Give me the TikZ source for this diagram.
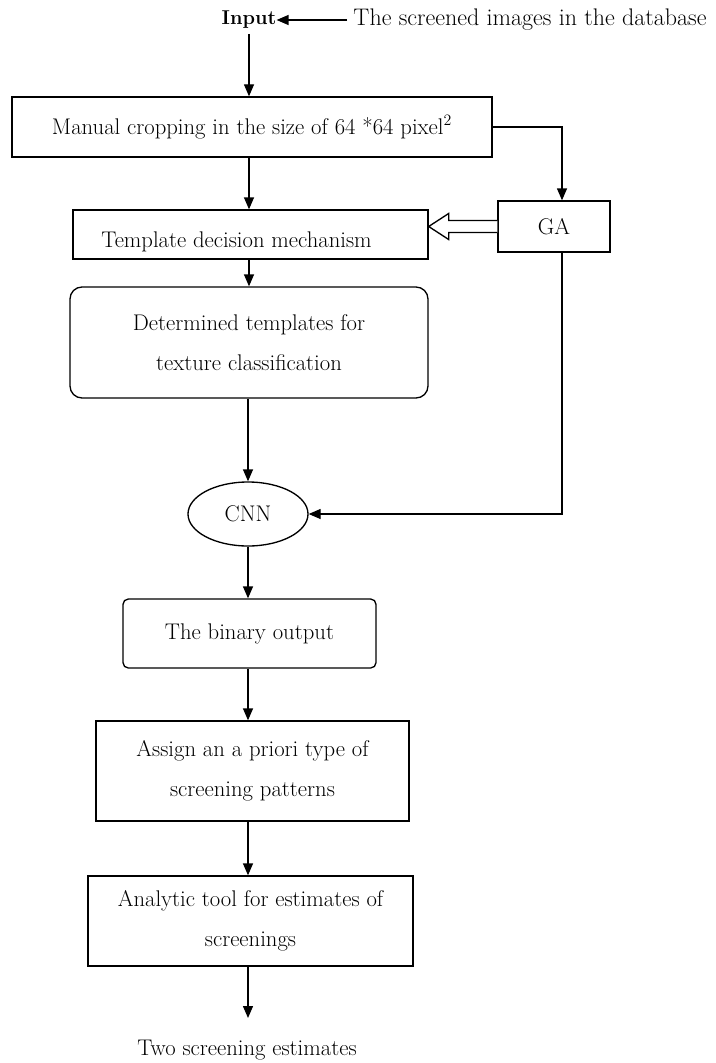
\documentclass[tikz,border=0pt]{standalone}
\usetikzlibrary{arrows.meta,shapes.geometric,calc}
\begin{document}
\begin{tikzpicture}[x=0.75pt,y=-0.75pt,
  every node/.style={font=\fontsize{17}{30}\selectfont, inner sep=0pt, align=center},
  box/.style={draw, line width=1pt},
  arr/.style={draw, line width=1pt, -{Triangle[length=9pt,width=7.5pt]}},
  hollow/.style={draw, line width=1pt, fill=white, line join=miter},
  ]
\useasboundingbox (0,0) rectangle (715,1063);

% source and input
\node[font=\fontsize{15}{16}\selectfont\bfseries] (in) at (249,20) {Input};
\node[font=\fontsize{18}{20}\selectfont] (src) at (530,20) {The screened images in the database};

% process blocks
\node[box, minimum width=360pt, minimum height=45pt] (crop) at (252,127)
  {Manual cropping in the size of 64 *64 pixel\textsuperscript{2}};
\node[box, minimum width=84pt, minimum height=38.25pt] (ga) at (554,226.5) {GA};
\node[box, minimum width=266.25pt, minimum height=36.75pt,
  label={[shift={(-14,7)}]center:Template decision mechanism}] (tdm) at (250.5,234.5) {};
\node[box, rounded corners=9pt, minimum width=268.5pt, minimum height=83.25pt] (tpl) at (249,342.5)
  {Determined templates for\\texture classification};
\node[box, ellipse, minimum width=90pt, minimum height=48pt] (cnn) at (248,514) {CNN};
\node[box, rounded corners=4pt, minimum width=189.75pt, minimum height=51.75pt] (bin) at (249.5,633.5)
  {The binary output};
\node[box, minimum width=234.75pt, minimum height=75pt] (prio) at (252.5,771)
  {Assign an a priori type of\\screening patterns};
\node[box, minimum width=243.75pt, minimum height=67.5pt] (tool) at (250.5,921)
  {Analytic tool for estimates of\\screenings};
\node (out) at (247,1050) {Two screening estimates};

% connectors
\draw[arr] (src.west) ++(-6,0) -- (in.east);
\draw[arr] (in.south |- 0,34) -- (in.south |- crop.north);
\draw[arr] (in.south |- crop.south) -- (in.south |- tdm.north);
\draw[arr] (crop.east) -| ($(ga.north)+(8,0)$);
\draw[arr] (in.south |- tdm.south) -- (in.south |- tpl.north);
\draw[arr] (cnn.north |- tpl.south) -- (cnn.north);
\draw[arr] ($(ga.south)+(8,0)$) |- (cnn.east);
\draw[arr] (cnn.south) -- (cnn.south |- bin.north);
\draw[arr] (cnn.south |- bin.south) -- (cnn.south |- prio.north);
\draw[arr] (cnn.south |- prio.south) -- (cnn.south |- tool.north);
\draw[arr] (cnn.south |- tool.south) -- (cnn.south |- 0,1018);

% hollow arrow from GA to the template decision block
\coordinate (tip) at (tdm.east |- ga.west);
\draw[hollow] ($(ga.west)+(0,-6)$) -- ($(tip)+(20,-6)$) -- ($(tip)+(20,-13)$) -- (tip)
  -- ($(tip)+(20,13)$) -- ($(tip)+(20,6)$) -- ($(ga.west)+(0,6)$);
\end{tikzpicture}
\end{document}
